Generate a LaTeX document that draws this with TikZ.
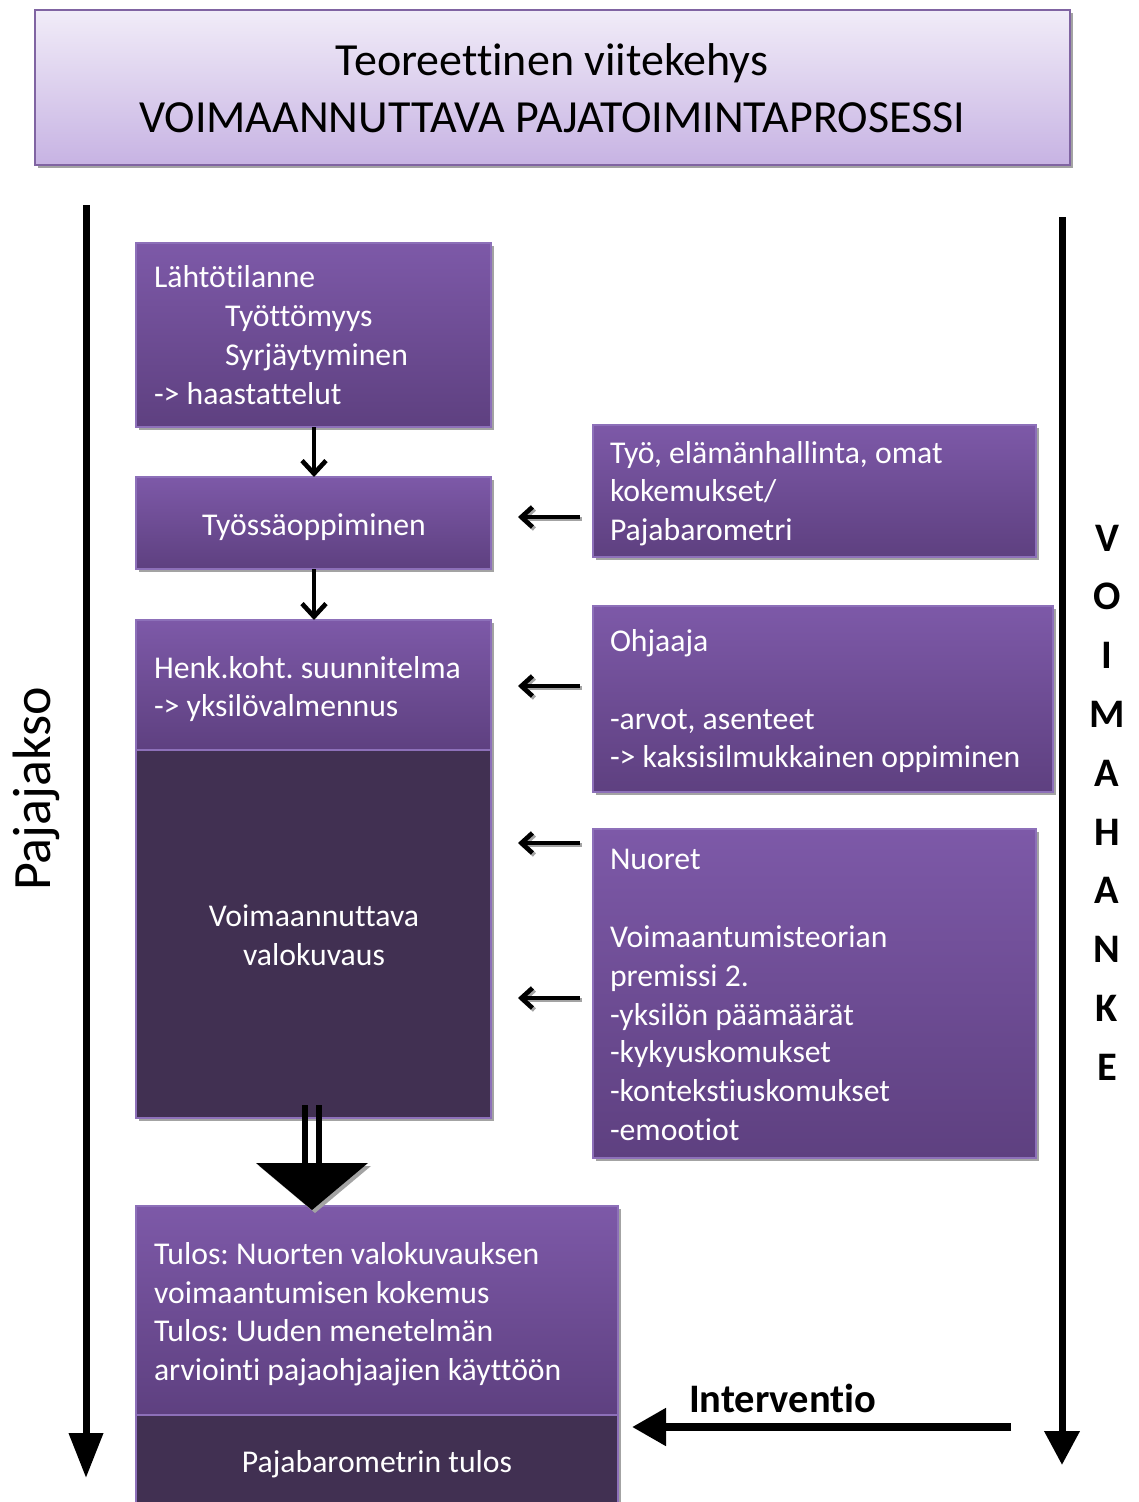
\documentclass[tikz,border=0pt]{standalone}
\usepackage{fontspec}
\setmainfont{Carlito}[Ligatures=NoCommon]
\usetikzlibrary{arrows.meta,shadows}
\frenchspacing

\definecolor{boxtop}{HTML}{7D59A8}
\definecolor{boxbot}{HTML}{5E4080}
\definecolor{boxdark}{HTML}{413052}
\definecolor{boxline}{HTML}{8D70B9}
\definecolor{titletop}{HTML}{F1ECF8}
\definecolor{titlebot}{HTML}{C7B3E3}
\definecolor{titleline}{HTML}{8064A2}
\definecolor{shadegray}{HTML}{A3A3A3}

\tikzset{
  every node/.style={inner sep=0pt, outer sep=0pt},
  card/.style={rectangle, anchor=north west, draw=boxline, line width=1.2pt,
    top color=boxtop, bottom color=boxbot,
    drop shadow={shadow xshift=3pt, shadow yshift=-3pt, fill=shadegray, opacity=1}},
  darkcard/.style={card, top color=boxdark, bottom color=boxdark},
  titlebox/.style={rectangle, anchor=north west, draw=titleline, line width=1.5pt,
    top color=titletop, bottom color=titlebot,
    drop shadow={shadow xshift=3pt, shadow yshift=-3pt, fill=shadegray, opacity=1}},
  txt/.style={text=white, font=\fontsize{31.7}{39}\selectfont, anchor=base west},
  ctxt/.style={txt, anchor=base},
  ttl/.style={text=black, font=\fontsize{46}{56}\selectfont, anchor=base},
  sidetxt/.style={text=black, font=\bfseries\fontsize{40.5}{48}\selectfont, anchor=base},
  downarr/.style={line width=4.6pt, -{Straight Barb[length=13pt, width=24pt]}},
  leftarr/.style={line width=4.6pt, -{Straight Barb[length=11pt, width=20pt]}},
  leftshadow/.style={leftarr, draw=shadegray, transform canvas={shift={(2pt,-2pt)}}},
  bigarr/.style={line width=7pt, -{Triangle[length=45pt, width=33pt]}},
}

\begin{document}
\begin{tikzpicture}[x=1pt, y=-1pt]
\useasboundingbox (0,0) rectangle (1138,1502);

% heading
\node[titlebox, minimum width=1035pt, minimum height=155pt] (title) at (35,10) {};
\node[ttl] (title1) at (552,75) {Teoreettinen viitekehys};
\node[ttl] (title2) at (552,132) {VOIMAANNUTTAVA PAJATOIMINTAPROSESSI};

% time axes on both sides
\coordinate (leftTop) at (86,205);
\coordinate (leftEnd) at (86,1478);
\draw[bigarr] (leftTop) -- (leftEnd);
\node[text=black, font=\fontsize{54}{60}\selectfont, anchor=base, rotate=90] (pajajakso) at (50,789) {Pajajakso};

\coordinate (rightTop) at (1062,217);
\coordinate (rightEnd) at (1062,1465);
\draw[line width=7pt, -{Triangle[length=34pt, width=34pt]}] (rightTop) -- (rightEnd);
\foreach \ch [count=\i] in {V,O,I,M,A,H,A,N,K,E}
  \node[sidetxt] (vh\i) at (1107, 551+58.8*\i-58.8) {\ch};

% left column
\node[card, minimum width=355pt, minimum height=184pt] (b1) at (136,243) {};
\node[txt] (b1a) at (154,287) {Lähtötilanne};
\node[txt] (b1b) at (225,326) {Työttömyys};
\node[txt] (b1c) at (225,365) {Syrjäytyminen};
\node[txt] (b1d) at (154,404) {-> haastattelut};

\node[card, minimum width=355pt, minimum height=92pt] (b2) at (136,477) {};
\node[ctxt] (b2a) at (314,535) {Työssäoppiminen};

\node[card, minimum width=355pt, minimum height=130pt] (b3) at (136,620) {};
\node[txt] (b3a) at (154,678) {Henk.koht. suunnitelma};
\node[txt] (b3b) at (154,716) {-> yksilövalmennus};

\node[darkcard, minimum width=355pt, minimum height=368pt] (b4) at (136,750) {};
\node[ctxt] (b4a) at (314,926) {Voimaannuttava};
\node[ctxt] (b4b) at (314,965) {valokuvaus};

\node[card, minimum width=482pt, minimum height=209pt] (b5) at (136,1206) {};
\node[txt] (b5a) at (154,1264) {Tulos: Nuorten valokuvauksen};
\node[txt] (b5b) at (154,1303) {voimaantumisen kokemus};
\node[txt] (b5c) at (154,1341) {Tulos: Uuden menetelmän};
\node[txt] (b5d) at (154,1380) {arviointi pajaohjaajien käyttöön};

\node[darkcard, minimum width=482pt, minimum height=100pt] (b6) at (136,1415) {};
\node[ctxt] (b6a) at (377,1472) {Pajabarometrin tulos};

% right column
\node[card, minimum width=443pt, minimum height=132pt] (r1) at (593,425) {};
\node[txt] (r1a) at (610,463) {Työ, elämänhallinta, omat};
\node[txt] (r1b) at (610,501) {kokemukset/};
\node[txt] (r1c) at (610,540) {Pajabarometri};

\node[card, minimum width=460pt, minimum height=186pt] (r2) at (593,606) {};
\node[txt] (r2a) at (610,651) {Ohjaaja};
\node[txt] (r2b) at (610,729) {-arvot, asenteet};
\node[txt] (r2c) at (610,767) {-> kaksisilmukkainen oppiminen};

\node[card, minimum width=443pt, minimum height=329pt] (r3) at (593,829) {};
\node[txt] (r3a) at (610,869) {Nuoret};
\node[txt] (r3b) at (610,947) {Voimaantumisteorian};
\node[txt] (r3c) at (610,986) {premissi 2.};
\node[txt] (r3d) at (610,1025) {-yksilön päämäärät};
\node[txt] (r3e) at (610,1062) {-kykyuskomukset};
\node[txt] (r3f) at (610,1101) {-kontekstiuskomukset};
\node[txt] (r3g) at (610,1140) {-emootiot};

% flow between the left boxes
\draw[downarr] (b1.south -| 314,0) -- (b2.north -| 314,0);
\draw[downarr] (b2.south -| 314,0) -- (b3.north -| 314,0);

% influences from the right column
\coordinate (in1s) at (580,517);  \coordinate (in1e) at (518,517);
\coordinate (in2s) at (580,686);  \coordinate (in2e) at (518,686);
\coordinate (in3s) at (580,843);  \coordinate (in3e) at (518,843);
\coordinate (in4s) at (580,998);  \coordinate (in4e) at (518,998);
\foreach \k in {1,2,3,4} {
  \draw[leftshadow] (in\k s) -- (in\k e);
  \draw[leftarr] (in\k s) -- (in\k e);
}

% block arrow from the photography phase to the results
\coordinate (blkL) at (256,1163);
\coordinate (blkR) at (368,1163);
\coordinate (blkTip) at (312,1210);
\fill[shadegray] ([shift={(3pt,-3pt)}]blkL) -- ([shift={(3pt,-3pt)}]blkR) -- ([shift={(3pt,-3pt)}]blkTip) -- cycle;
\draw[line width=6pt] (305,1105) -- (305,1166);
\draw[line width=6pt] (319,1105) -- (319,1166);
\fill[black] (blkL) -- (blkR) -- (blkTip) -- cycle;

% intervention
\coordinate (intStart) at (1011,1427);
\coordinate (intEnd) at (632,1427);
\draw[line width=8pt, -{Triangle[length=34pt, width=36pt]}] (intStart) -- (intEnd);
\node[sidetxt, anchor=base west] (interv) at (689,1412) {Interventio};
\end{tikzpicture}
\end{document}
